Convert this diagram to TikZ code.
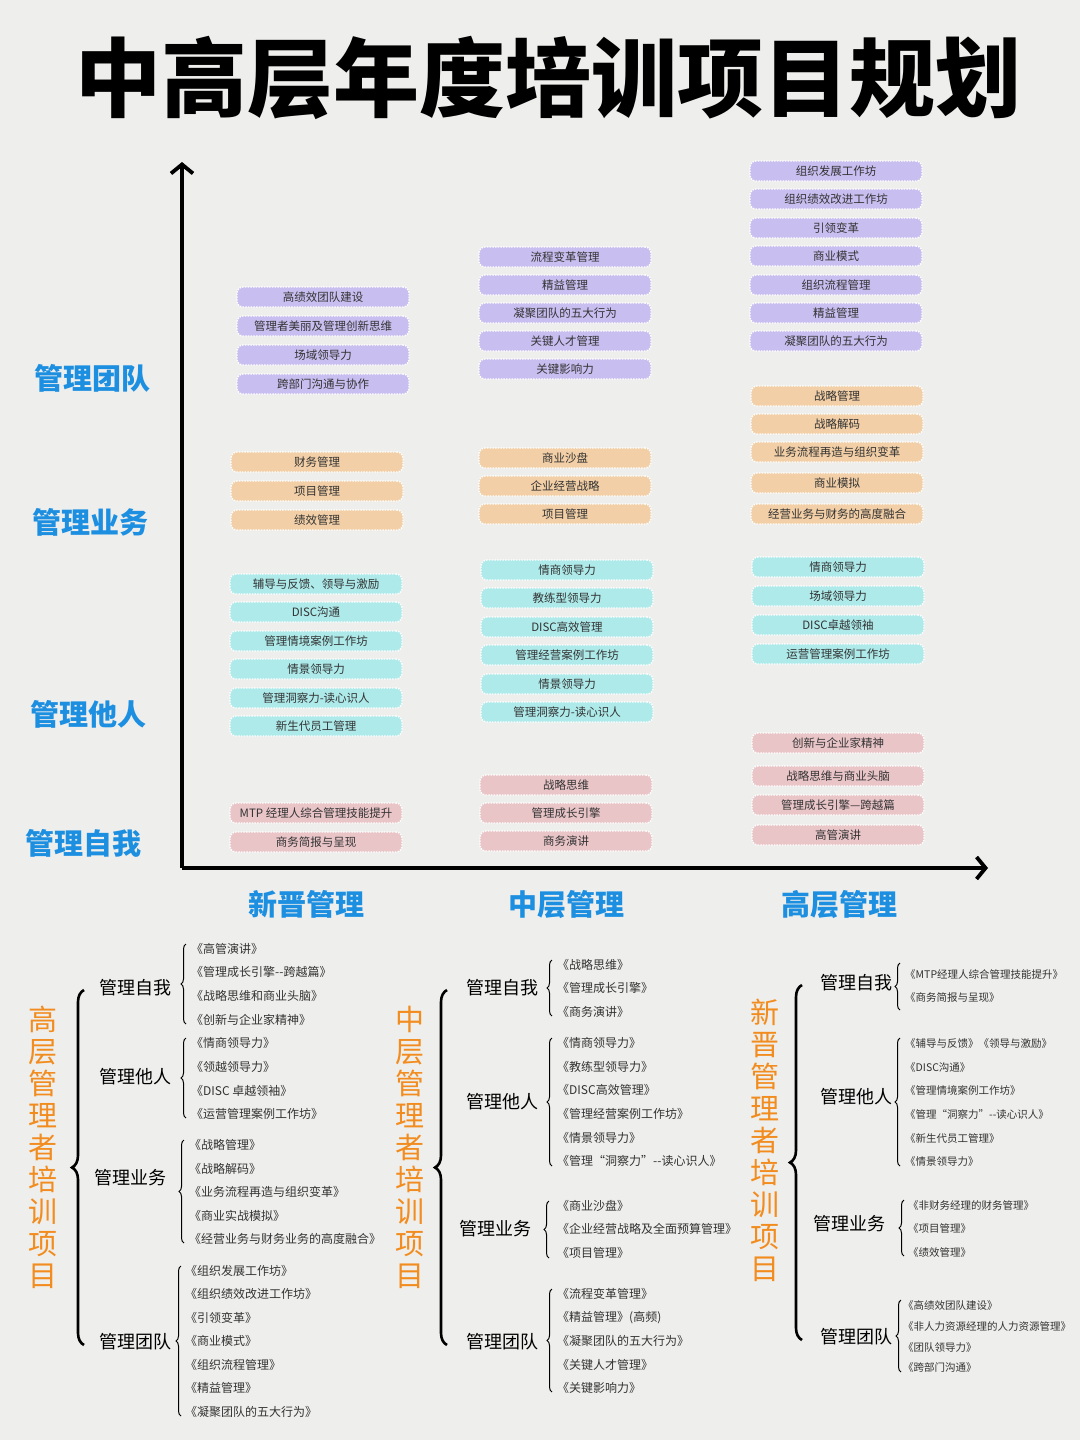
\documentclass[tikz,border=0pt]{standalone}
\usepackage{fontspec}
\setmainfont{Noto Sans CJK SC}
\usetikzlibrary{arrows.meta,decorations.pathreplacing}
\definecolor{bg}{HTML}{EEEEEC}
\definecolor{cpur}{HTML}{C9BEF0}
\definecolor{cora}{HTML}{F2CFA6}
\definecolor{ccya}{HTML}{AEEAEA}
\definecolor{cpin}{HTML}{E9C5C8}
\definecolor{axblue}{HTML}{1D8FE1}
\definecolor{vorange}{HTML}{F28C1E}
\definecolor{txt}{HTML}{333333}
\tikzset{
 chip/.style={rounded corners=6pt, draw=white, line width=1.4pt, dash pattern=on 1.5pt off 1.2pt,
   minimum width=172pt, minimum height=20pt, inner sep=0pt, font=\fontsize{11.5}{12}\selectfont, text=txt},
 axlab/.style={font=\fontsize{29}{30}\selectfont\bfseries, text=axblue},
 vlab/.style={font=\fontsize{29}{32}\selectfont, text=vorange, align=center},
 cat/.style={font=\fontsize{18}{20}\selectfont, text=black},
 item/.style={font=\fontsize{12}{13}\selectfont, text=txt, anchor=west, inner sep=0pt},
 itemsm/.style={font=\fontsize{10.5}{12}\selectfont, text=txt, anchor=west, inner sep=0pt},
 bigbrace/.style={decorate, decoration={brace, amplitude=12pt}, line width=2.6pt},
 smbrace/.style={decorate, decoration={brace, amplitude=5pt}, line width=1pt},
 axis/.style={line width=3.8pt, -{Straight Barb[length=9pt,width=22pt,line width=3.8pt]}}
}
\begin{document}
\begin{tikzpicture}[x=1pt,y=-1pt]
\fill[bg] (0,0) rectangle (1080,1440);
\useasboundingbox (0,0) rectangle (1080,1440);
\node (title) at (548,78) {\fontsize{86}{90}\selectfont\bfseries 中高层年度培训项目规划};
% axes
\coordinate (o) at (182,868);
\coordinate (ytop) at (182,162);
\coordinate (xend) at (988,868);
\draw[axis] (o) -- (ytop);
\draw[axis] (o) -- (xend);
% axis labels
\node[axlab] (ya) at (92,378) {管理团队};
\node[axlab] (yb) at (90,522) {管理业务};
\node[axlab] (yc) at (88,714) {管理他人};
\node[axlab] (yd) at (83,843) {管理自我};
\node[axlab] (xa) at (306,904) {新晋管理};
\node[axlab] (xb) at (566,904) {中层管理};
\node[axlab] (xc) at (839,904) {高层管理};
% chips
\newcommand\chips[4]{\foreach \yy/\tt [count=\i] in {#4} {\node[chip, fill=#2] (#3\i) at (#1,\yy) {\tt};}}
\chips{323}{cpur}{ap}{297/高绩效团队建设,326/管理者美丽及管理创新思维,355/场域领导力,384/跨部门沟通与协作}
\chips{317}{cora}{ao}{462/财务管理,491/项目管理,520/绩效管理}
\chips{316}{ccya}{ac}{584/辅导与反馈、领导与激励,612/DISC沟通,641/管理情境案例工作坊,669/情景领导力,698/管理洞察力-读心识人,726/新生代员工管理}
\chips{316}{cpin}{ak}{813/MTP 经理人综合管理技能提升,842/商务简报与呈现}
\chips{565}{cpur}{bp}{257/流程变革管理,285/精益管理,313/凝聚团队的五大行为,341/关键人才管理,369/关键影响力}
\chips{565}{cora}{bo}{458/商业沙盘,486/企业经营战略,514/项目管理}
\chips{567}{ccya}{bc}{570/情商领导力,598/教练型领导力,627/DISC高效管理,655/管理经营案例工作坊,684/情景领导力,712/管理洞察力-读心识人}
\chips{566}{cpin}{bk}{785/战略思维,813/管理成长引擎,841/商务演讲}
\chips{836}{cpur}{cp}{171/组织发展工作坊,199/组织绩效改进工作坊,228/引领变革,256/商业模式,285/组织流程管理,313/精益管理,341/凝聚团队的五大行为}
\chips{837}{cora}{co}{396/战略管理,424/战略解码,452/业务流程再造与组织变革,483/商业模拟,514/经营业务与财务的高度融合}
\chips{838}{ccya}{cc}{567/情商领导力,596/场域领导力,625/DISC卓越领袖,654/运营管理案例工作坊}
\chips{838}{cpin}{ck}{743/创新与企业家精神,776/战略思维与商业头脑,805/管理成长引擎—跨越篇,835/高管演讲}
% ---------- bottom trees ----------
\newcommand\items[4]{\foreach \yy/\tt [count=\i] in {#4} {\node[#2] (#3\i) at (#1,\yy) {\tt};}}
% left: senior
\node[vlab] (lv) at (43,1147) {高\\层\\管\\理\\者\\培\\训\\项\\目};
\coordinate (lbb) at (84,1345); \coordinate (lbt) at (84,990);
\draw[bigbrace] (lbb) -- (lbt);
\node[cat] (l1) at (135,988) {管理自我};
\node[cat] (l2) at (135,1077) {管理他人};
\node[cat] (l3) at (130,1178) {管理业务};
\node[cat] (l4) at (135,1342) {管理团队};
\coordinate (ls1b) at (186,1024); \coordinate (ls1t) at (186,944); \draw[smbrace] (ls1b) -- (ls1t);
\coordinate (ls2b) at (186,1118); \coordinate (ls2t) at (186,1038); \draw[smbrace] (ls2b) -- (ls2t);
\coordinate (ls3b) at (184,1243); \coordinate (ls3t) at (184,1140); \draw[smbrace] (ls3b) -- (ls3t);
\coordinate (ls4b) at (181,1416); \coordinate (ls4t) at (181,1266); \draw[smbrace] (ls4b) -- (ls4t);
\items{191}{item}{la}{949/《高管演讲》,972/《管理成长引擎{-}{-}跨越篇》,996/《战略思维和商业头脑》,1020/《创新与企业家精神》}
\items{191}{item}{lb}{1043/《情商领导力》,1067/《领越领导力》,1091/《DISC 卓越领袖》,1114/《运营管理案例工作坊》}
\items{189}{item}{lc}{1145/《战略管理》,1169/《战略解码》,1192/《业务流程再造与组织变革》,1216/《商业实战模拟》,1239/《经营业务与财务业务的高度融合》}
\items{185}{item}{ld}{1271/《组织发展工作坊》,1294/《组织绩效改进工作坊》,1318/《引领变革》,1341/《商业模式》,1365/《组织流程管理》,1388/《精益管理》,1412/《凝聚团队的五大行为》}
% middle
\node[vlab] (mv) at (410,1147) {中\\层\\管\\理\\者\\培\\训\\项\\目};
\coordinate (mbb) at (447,1345); \coordinate (mbt) at (447,990);
\draw[bigbrace] (mbb) -- (mbt);
\node[cat] (m1) at (502,988) {管理自我};
\node[cat] (m2) at (502,1102) {管理他人};
\node[cat] (m3) at (495,1229) {管理业务};
\node[cat] (m4) at (502,1342) {管理团队};
\coordinate (ms1b) at (552,1016); \coordinate (ms1t) at (552,960); \draw[smbrace] (ms1b) -- (ms1t);
\coordinate (ms2b) at (552,1166); \coordinate (ms2t) at (552,1038); \draw[smbrace] (ms2b) -- (ms2t);
\coordinate (ms3b) at (549,1258); \coordinate (ms3t) at (549,1201); \draw[smbrace] (ms3b) -- (ms3t);
\coordinate (ms4b) at (552,1392); \coordinate (ms4t) at (552,1289); \draw[smbrace] (ms4b) -- (ms4t);
\items{557}{item}{ma}{965/《战略思维》,988/《管理成长引擎》,1012/《商务演讲》}
\items{557}{item}{mb}{1043/《情商领导力》,1067/《教练型领导力》,1090/《DISC高效管理》,1114/《管理经营案例工作坊》,1138/《情景领导力》,1161/《管理“洞察力”{-}{-}读心识人》}
\items{557}{item}{mc}{1206/《商业沙盘》,1229/《企业经营战略及全面预算管理》,1253/《项目管理》}
\items{557}{item}{md}{1294/《流程变革管理》,1318/《精益管理》(高频),1341/《凝聚团队的五大行为》,1365/《关键人才管理》,1388/《关键影响力》}
% right: new
\node[vlab] (rv) at (765,1140) {新\\晋\\管\\理\\者\\培\\训\\项\\目};
\coordinate (rbb) at (802,1340); \coordinate (rbt) at (802,985);
\draw[bigbrace] (rbb) -- (rbt);
\node[cat] (r1) at (856,983) {管理自我};
\node[cat] (r2) at (856,1097) {管理他人};
\node[cat] (r3) at (849,1224) {管理业务};
\node[cat] (r4) at (856,1337) {管理团队};
\coordinate (rs1b) at (900,1010); \coordinate (rs1t) at (900,963); \draw[smbrace] (rs1b) -- (rs1t);
\coordinate (rs2b) at (900,1166); \coordinate (rs2t) at (900,1038); \draw[smbrace] (rs2b) -- (rs2t);
\coordinate (rs3b) at (904,1256); \coordinate (rs3t) at (904,1200); \draw[smbrace] (rs3b) -- (rs3t);
\coordinate (rs4b) at (901,1372); \coordinate (rs4t) at (901,1300); \draw[smbrace] (rs4b) -- (rs4t);
\items{905}{itemsm}{ra}{974/《MTP经理人综合管理技能提升》,997/《商务简报与呈现》}
\items{905}{itemsm}{rb}{1043/《辅导与反馈》《领导与激励》,1067/《DISC沟通》,1090/《管理情境案例工作坊》,1114/《管理“洞察力”{-}{-}读心识人》,1138/《新生代员工管理》,1161/《情景领导力》}
\items{908}{itemsm}{rc}{1205/《非财务经理的财务管理》,1228/《项目管理》,1252/《绩效管理》}
\items{903}{itemsm}{rd}{1305/《高绩效团队建设》,1326/《非人力资源经理的人力资源管理》,1347/《团队领导力》,1367/《跨部门沟通》}
\end{tikzpicture}
\end{document}
